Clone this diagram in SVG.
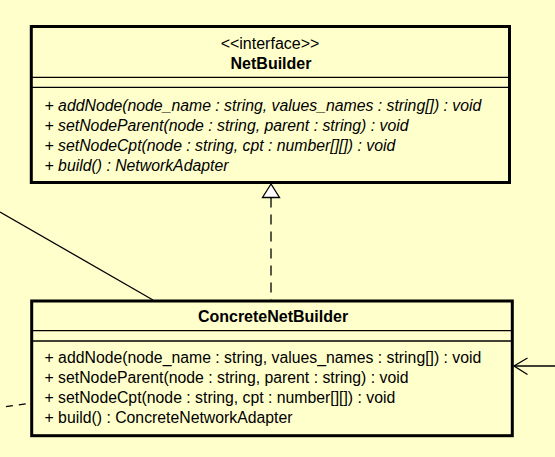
<svg xmlns="http://www.w3.org/2000/svg" width="555" height="457" viewBox="0 0 555 457">
<style>
.box{fill:#FFFFCC;stroke:#000;stroke-width:3}
.sep{stroke:#000;stroke-width:1.3}
.t{font-family:"Liberation Sans",Arial,sans-serif;font-size:16px;fill:#000}
.m{font-size:15.8px}
.i{font-style:italic}
.b{font-weight:bold}
.c{text-anchor:middle}
.conn{fill:none;stroke:#000;stroke-width:1.3}
</style>
<rect width="555" height="457" fill="#FFFFCC"/>
<g id="connectors">
<line class="conn" x1="0" y1="212" x2="153" y2="300"/>
<line class="conn" x1="271" y1="197.5" x2="271" y2="301" stroke-dasharray="10 7"/>
<polygon points="271,184 262.5,197.5 279.5,197.5" fill="#fff" stroke="#000" stroke-width="1.3"/>
<line class="conn" x1="555" y1="366" x2="514" y2="366"/>
<polyline class="conn" points="527.5,358 514,366 527.5,374.5"/>
<line class="conn" x1="0" y1="407.5" x2="30" y2="403.2" stroke-dasharray="7 6" stroke-dashoffset="7"/>
</g>
<g id="NetBuilder">
<rect class="box" x="31.3" y="26.5" width="478.2" height="156"/>
<text class="t c" x="270" y="48.5">&lt;&lt;interface&gt;&gt;</text>
<text class="t b c" x="271" y="68.5">NetBuilder</text>
<line class="sep" x1="31.3" y1="77.3" x2="509.5" y2="77.3"/>
<line class="sep" x1="31.3" y1="87.3" x2="509.5" y2="87.3"/>
<text class="t m i" x="44.5" y="110.5">+ addNode(node_name : string, values_names : string[]) : void</text>
<text class="t m i" x="44.5" y="130.5">+ setNodeParent(node : string, parent : string) : void</text>
<text class="t m i" x="44.5" y="150.5">+ setNodeCpt(node : string, cpt : number[][]) : void</text>
<text class="t m i" x="44.5" y="170.5">+ build() : NetworkAdapter</text>
</g>
<g id="ConcreteNetBuilder">
<rect class="box" x="31.7" y="301" width="480.6" height="134.7"/>
<text class="t b c" x="273" y="322">ConcreteNetBuilder</text>
<line class="sep" x1="31.7" y1="330.7" x2="512.3" y2="330.7"/>
<line class="sep" x1="31.7" y1="341" x2="512.3" y2="341"/>
<text class="t m" x="44.5" y="363.3">+ addNode(node_name : string, values_names : string[]) : void</text>
<text class="t m" x="44.5" y="383.3">+ setNodeParent(node : string, parent : string) : void</text>
<text class="t m" x="44.5" y="403.3">+ setNodeCpt(node : string, cpt : number[][]) : void</text>
<text class="t m" x="44.5" y="423.3">+ build() : ConcreteNetworkAdapter</text>
</g>
</svg>
